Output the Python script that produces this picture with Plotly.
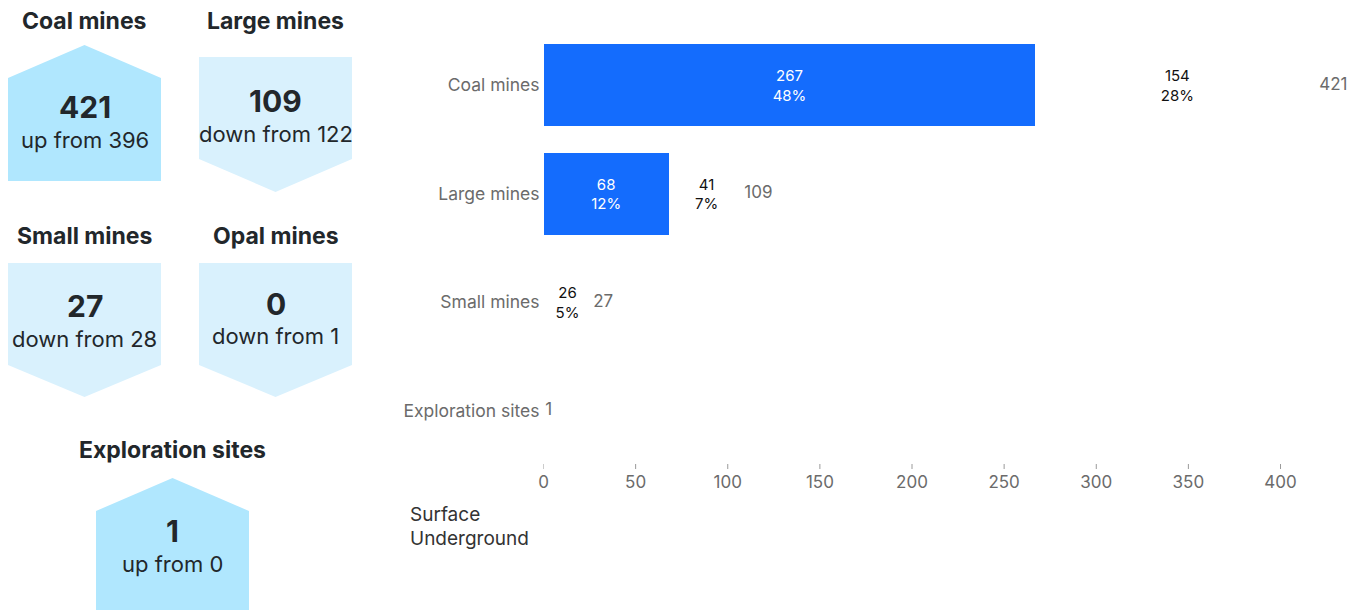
import plotly.graph_objects as go

# ---- data -------------------------------------------------------------
categories = ["Coal mines", "Large mines", "Small mines", "Exploration sites"]
surface = [267, 68, 0, 0]
underground = [154, 41, 26, 0]
surface_pct = ["48%", "12%", "", ""]
underground_pct = ["28%", "7%", "5%", ""]
totals = [421, 109, 27, 1]
x_ticks = [0, 50, 100, 150, 200, 250, 300, 350, 400]

card_titles = ["Coal mines", "Large mines", "Small mines", "Opal mines", "Exploration sites"]
card_values = [421, 109, 27, 0, 1]
card_previous = [396, 122, 28, 1, 0]

# ---- page geometry (pixels) --------------------------------------------
W, H = 1359, 610
FONT = "Inter"
BLUE = "#146cfd"
UP_FILL = "#b0e7fe"
DOWN_FILL = "#d9f1fd"
DARK = "#22272b"
GREY = "#6b6b6b"


def px(x):
    return x / W


def py(y):
    return 1 - y / H


# card layout: centre x, title y, top, shoulder, bottom, value y, sub y
card_geom = [
    (84.5, 21, 45, 78, 181, 107, 140),
    (275.5, 21, 57, 159, 192, 101, 134),
    (84.5, 236, 263, 365, 397, 306, 339),
    (275.5, 236, 263, 365, 397, 304, 336),
    (172.5, 450, 478, 511, 640, 531, 564),
]
HALF = 76.5

fig = go.Figure()

fig.add_trace(go.Bar(
    name="Surface", y=categories, x=surface, orientation="h",
    marker=dict(color=BLUE, line=dict(width=0)),
    text=[f"{v}<br>{p}" if v else "" for v, p in zip(surface, surface_pct)],
    textposition="inside", insidetextanchor="middle", textangle=0,
    textfont=dict(family=FONT, size=15, color="white"),
    showlegend=False, hoverinfo="skip",
))
fig.add_trace(go.Bar(
    name="Underground", y=categories, x=underground, orientation="h",
    marker=dict(color="rgba(255,255,255,0)", line=dict(width=0)),
    text=[f"{v}<br>{p}" if v else "" for v, p in zip(underground, underground_pct)],
    textposition="inside", insidetextanchor="middle", textangle=0,
    textfont=dict(family=FONT, size=15, color="#111111"),
    showlegend=False, hoverinfo="skip",
))
fig.add_trace(go.Scatter(
    y=categories, x=totals, mode="text",
    text=[str(t) for t in totals], textposition="middle right",
    textfont=dict(family=FONT, size=17, color=GREY),
    showlegend=False, hoverinfo="skip", cliponaxis=False,
))

# ---- summary cards -----------------------------------------------------
shapes = []
annotations = []
for title, val, prev, (cx, ty, top, sh, bot, vy, sy) in zip(
        card_titles, card_values, card_previous, card_geom):
    l, r = cx - HALF, cx + HALF
    up = val > prev
    if up:
        pts = [(cx, top), (r, sh), (r, bot), (l, bot), (l, sh)]
        fill = UP_FILL
        word = "up"
    else:
        pts = [(l, top), (r, top), (r, sh), (cx, bot), (l, sh)]
        fill = DOWN_FILL
        word = "down"
    path = "M " + " L ".join(f"{px(x):.5f},{py(y):.5f}" for x, y in pts) + " Z"
    shapes.append(dict(type="path", path=path, xref="paper", yref="paper",
                       fillcolor=fill, line=dict(width=0), layer="below"))
    annotations.append(dict(x=px(cx), y=py(ty), xref="paper", yref="paper",
                            text=f"<b>{title}</b>", showarrow=False,
                            xanchor="center", yanchor="middle",
                            font=dict(family=FONT, size=23, color=DARK)))
    annotations.append(dict(x=px(cx), y=py(vy), xref="paper", yref="paper",
                            text=f"<b>{val}</b>", showarrow=False,
                            xanchor="center", yanchor="middle",
                            font=dict(family=FONT, size=30, color=DARK)))
    annotations.append(dict(x=px(cx), y=py(sy), xref="paper", yref="paper",
                            text=f"{word} from {prev}", showarrow=False,
                            xanchor="center", yanchor="middle",
                            font=dict(family=FONT, size=22, color=DARK)))

# short tick marks above the x tick labels
for v in x_ticks:
    shapes.append(dict(type="line", xref="x", yref="paper",
                       x0=v, x1=v, y0=py(464), y1=py(469),
                       line=dict(color="#9a9a9a", width=1)))

# series names under the axis
for name, y in (("Surface", 514), ("Underground", 538)):
    annotations.append(dict(x=px(408), y=py(y), xref="paper", yref="paper",
                            text=name, showarrow=False,
                            xanchor="left", yanchor="middle",
                            font=dict(family=FONT, size=19, color="#333333")))

fig.update_layout(
    template="none",
    width=W, height=H,
    margin=dict(l=0, r=0, t=0, b=0, pad=0),
    paper_bgcolor="white", plot_bgcolor="white",
    barmode="stack", bargap=0.245,
    shapes=shapes, annotations=annotations,
    font=dict(family=FONT),
    xaxis=dict(
        domain=[px(543.5), px(1358)],
        range=[0, max(totals) * 1.05],
        automargin=False,
        showgrid=False, zeroline=False, showline=False,
        ticks="", tickvals=x_ticks,
        tickfont=dict(family=FONT, size=17, color=GREY),
        ticklabelstandoff=5,
        anchor="y",
    ),
    yaxis=dict(
        domain=[py(465), py(31)],
        autorange="reversed",
        automargin=False,
        showgrid=False, zeroline=False, showline=False,
        ticks="", ticklabelstandoff=3,
        tickfont=dict(family=FONT, size=17.5, color=GREY),
    ),
)

fig.write_html("out.html")
